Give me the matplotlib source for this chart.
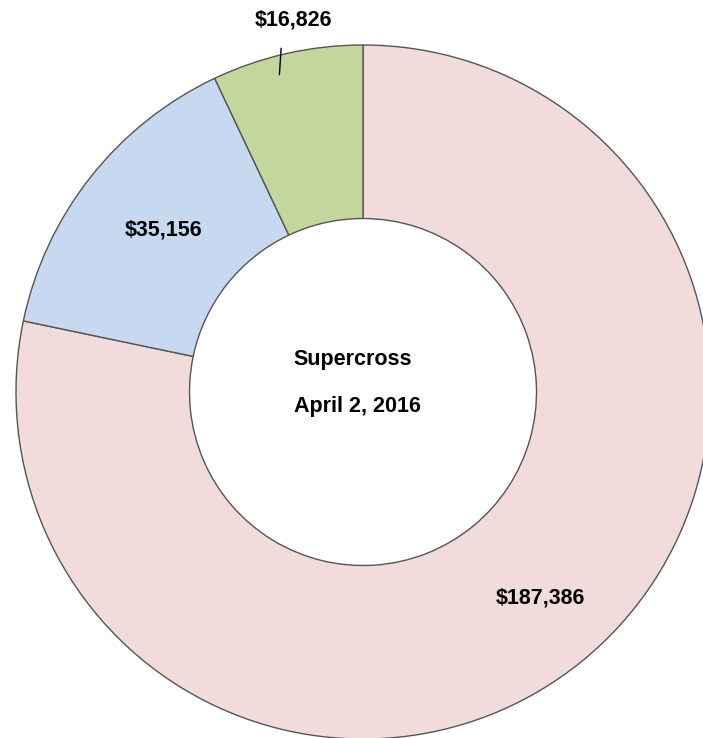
import numpy as np
import matplotlib
matplotlib.use("Agg")
import matplotlib.pyplot as plt

categories = ["A", "B", "C"]
values = [187386, 35156, 16826]
labels = ["$187,386", "$35,156", "$16,826"]
colors = ["#f2dcdb", "#c6d9f1", "#c3d69b"]
title_lines = ["Supercross", "April 2, 2016"]

W, H = 703, 738
fig = plt.figure(figsize=(W / 100, H / 100), dpi=100)
ax = fig.add_axes([0, 0, 1, 1])
cx, cy, R = 363, 392, 347

wedges, _ = ax.pie(values, colors=colors, startangle=90, counterclock=False,
                   radius=1.0, wedgeprops=dict(width=0.5, edgecolor="#555555", linewidth=1.0))
ax.set_xlim(-cx / R, (W - cx) / R)
ax.set_ylim(-(H - cy) / R, cy / R)
ax.set_aspect("equal")
ax.axis("off")

font = dict(family=["Liberation Sans", "DejaVu Sans"], fontweight="bold", fontsize=15.5)
for i, (w, lab) in enumerate(zip(wedges, labels)):
    mid = np.deg2rad((w.theta1 + w.theta2) / 2)
    if i == 0:
        ax.text(0.51, -0.594, lab, ha="center", va="center", **font)
    elif i == 1:
        ax.text(-0.576, 0.467, lab, ha="center", va="center", **font)
    else:
        x0 = 1.1 * np.cos(mid)
        ax.plot([x0, x0 + 0.005], [0.915, 0.99], color="black", lw=1)
        ax.text(-0.2, 1.072, lab, ha="center", va="center", **font)

ax.text(-0.03, 0.095, title_lines[0], ha="center", va="center", **font)
ax.text(-0.017, -0.043, title_lines[1], ha="center", va="center", **font)

fig.savefig("out.png", dpi=100)
